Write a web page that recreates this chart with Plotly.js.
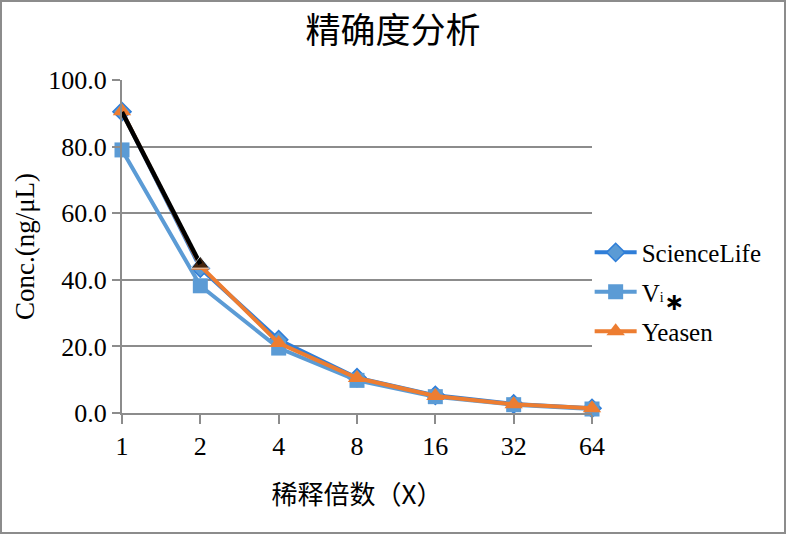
<!DOCTYPE html>
<html><head><meta charset="utf-8">
<script src="https://cdn.plot.ly/plotly-3.0.1.min.js"></script>
<style>
html,body{margin:0;padding:0;background:#fff;}
#chart{width:786px;height:534px;box-sizing:border-box;border:2px solid #8c8c8c;}
</style></head>
<body><div id="chart"></div>
<script>
const categories = ["1","2","4","8","16","32","64"];
const scienceLife = [90.5, 43.5, 22.0, 10.6, 5.3, 2.7, 1.4];
const vSeries = [79.0, 38.2, 19.5, 9.8, 4.9, 2.5, 1.2];
const yeasen = [90.6, 44.2, 21.0, 10.5, 5.1, 2.6, 1.4];
const overlayCats = ["1","2"];
const overlayVals = [90.4, 44.7];

const serif = "Liberation Serif, Times New Roman, serif";
const traces = [
  {x: categories, y: scienceLife, name: "ScienceLife", legendgroup: "a", type: "scatter", mode: "lines+markers",
   line: {color: "#2f7ed8", width: 4}, marker: {symbol: "diamond", size: 14, color: "#5b9bd5", line:{color:"#2f7ed8", width:1.5}}, cliponaxis: false},
  {x: categories, y: vSeries, name: "V<span style='font-size:14px'>i</span>", legendgroup: "b", type: "scatter", mode: "lines+markers",
   line: {color: "#5b9bd5", width: 4}, marker: {symbol: "square", size: 15, color: "#5b9bd5"}, cliponaxis: false},
  {x: categories, y: yeasen, name: "Yeasen", legendgroup: "c", type: "scatter", mode: "lines+markers",
   line: {color: "#ed7d31", width: 4}, marker: {symbol: "triangle-up", size: 16, color: "#ed7d31"}, cliponaxis: false},
  {x: overlayCats, y: overlayVals, showlegend: false, type: "scatter", mode: "lines+markers",
   line: {color: "#000000", width: 4.5}, marker: {symbol: "triangle-up", size: [0, 16], color: "#000000"}, cliponaxis: false, hoverinfo: "skip"}
];

const layout = {
  width: 782, height: 530,
  margin: {l: 120, r: 192, t: 78, b: 119},
  paper_bgcolor: "#fff", plot_bgcolor: "#fff",
  title: {text: "精确度分析", x: 0.5, xanchor: "center", yref: "container", y: 0.945, yanchor: "middle",
          font: {family: "Noto Sans CJK SC, sans-serif", size: 35, color: "#000"}},
  xaxis: {type: "category", range: [0, 6], showgrid: false, showline: true, linecolor: "#8c8c8c", linewidth: 2,
          ticks: "outside", ticklen: 9, tickwidth: 2, tickcolor: "#8c8c8c",
          tickfont: {family: serif, size: 26, color: "#000"},
          title: {text: "稀释倍数（X）", font: {family: "Noto Sans CJK SC, sans-serif", size: 26, color: "#000"}, standoff: 26}},
  yaxis: {range: [0, 100], dtick: 20, tickformat: ".1f", showgrid: true, gridcolor: "#8c8c8c", gridwidth: 2,
          zeroline: false, showline: true, linecolor: "#8c8c8c", linewidth: 2,
          ticks: "outside", ticklen: 8, tickwidth: 2, tickcolor: "#8c8c8c",
          tickfont: {family: serif, size: 26, color: "#000"},
          title: {text: "Conc.(ng/μL)", font: {family: serif, size: 27, color: "#000"}, standoff: 6}},
  legend: {x: 0.995, xanchor: "left", y: 0.363, yanchor: "middle", font: {family: serif, size: 25, color: "#000"},
           itemwidth: 42, tracegroupgap: 4, bgcolor: "rgba(0,0,0,0)"},
  annotations: [{xref: "paper", yref: "paper", x: 1.2, y: 0.333, yanchor: "middle", text: "<b>∗</b>", showarrow: false,
                 font: {family: "DejaVu Sans, sans-serif", size: 24, color: "#000"}}],
  showlegend: true
};
Plotly.newPlot("chart", traces, layout, {displayModeBar: false, staticPlot: true});
</script></body></html>
